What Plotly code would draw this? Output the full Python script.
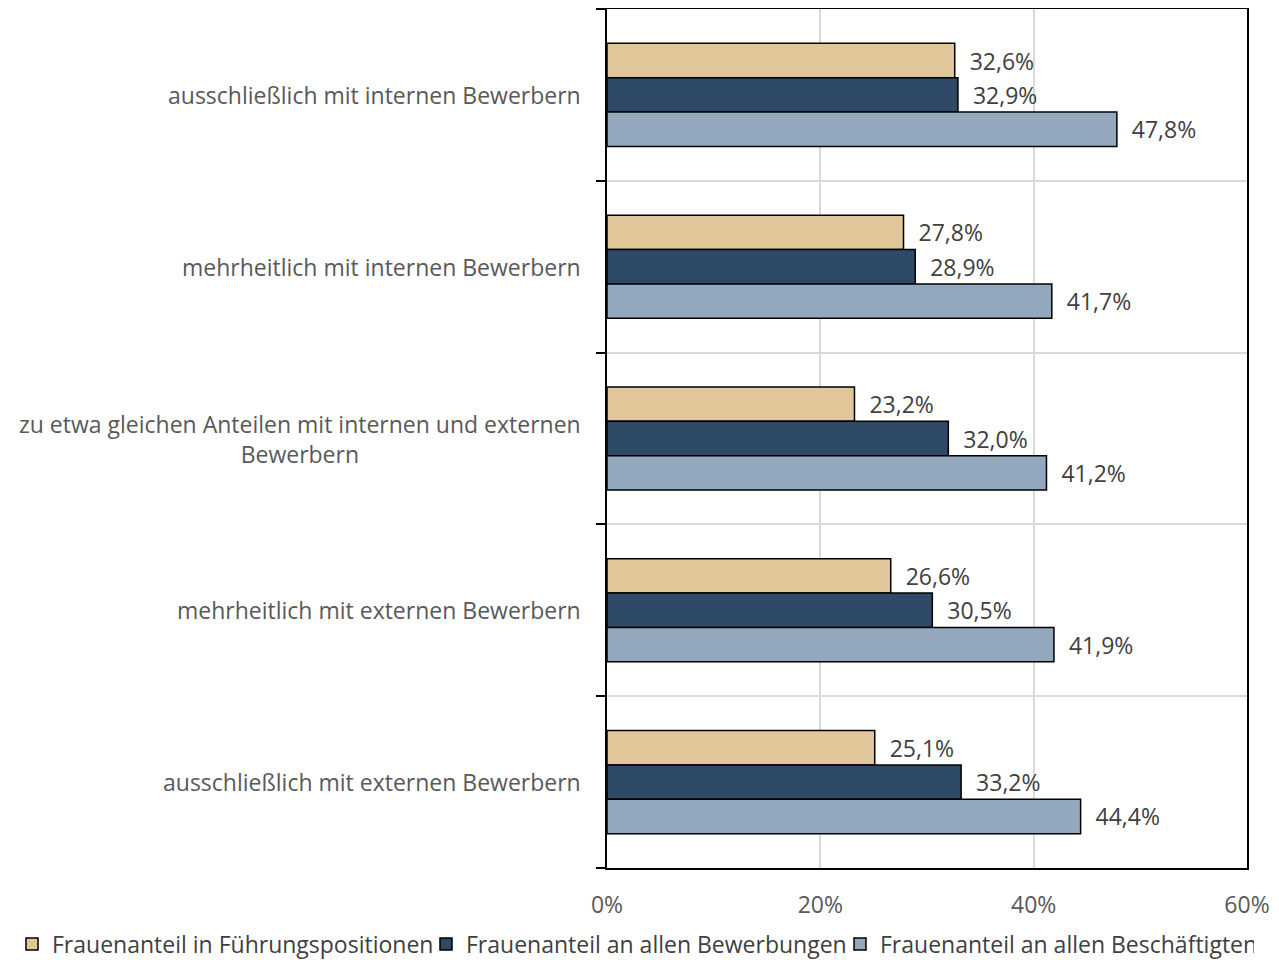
import plotly.graph_objects as go

categories = [
    "ausschließlich mit internen Bewerbern",
    "mehrheitlich mit internen Bewerbern",
    "zu etwa gleichen Anteilen mit internen und externen<br>Bewerbern",
    "mehrheitlich mit externen Bewerbern",
    "ausschließlich mit externen Bewerbern",
]
series_names = [
    "Frauenanteil in Führungspositionen",
    "Frauenanteil an allen Bewerbungen",
    "Frauenanteil an allen Beschäftigten",
]
fuehrung = [32.6, 27.8, 23.2, 26.6, 25.1]
bewerbungen = [32.9, 28.9, 32.0, 30.5, 33.2]
beschaeftigte = [47.8, 41.7, 41.2, 41.9, 44.4]
colors = ["#E0C699", "#2E4A66", "#94A8BD"]

FONT = "Open Sans"
W, H = 1271, 952
L, R, T, B = 599, 32, 1, 92

fig = go.Figure()
for name, vals, col in zip(series_names, [fuehrung, bewerbungen, beschaeftigte], colors):
    fig.add_trace(go.Bar(
        y=list(range(len(categories))), x=vals, name=name, orientation="h",
        marker=dict(color=col, line=dict(color="black", width=1.5)),
        text=["  " + f"{v:.1f}".replace(".", ",") + "%" for v in vals],
        textposition="outside", cliponaxis=False,
        textfont=dict(family=FONT, size=23, color="#404040"),
    ))

for i, c in enumerate(categories):
    fig.add_annotation(x=0, xref="paper", y=i, yref="y", text=c, showarrow=False,
                       xanchor="right", xshift=-24, align="center",
                       font=dict(family=FONT, size=23, color="#595959"))

plot_w = W - L - R
plot_h = H - T - B
fig.update_layout(
    width=W, height=H, barmode="group", bargap=0.4, bargroupgap=0,
    plot_bgcolor="white", paper_bgcolor="white",
    margin=dict(l=L, r=R, t=T, b=B, autoexpand=False),
    font=dict(family=FONT, size=23, color="#595959"),
    legend=dict(orientation="h", xref="paper", yref="paper",
                x=(4 - L) / plot_w, y=-(936 - (H - B)) / plot_h,
                xanchor="left", yanchor="middle",
                font=dict(family=FONT, size=23, color="#404040"),
                traceorder="normal", itemwidth=30, entrywidth=369, entrywidthmode="pixels"),
    xaxis=dict(range=[0, 60], dtick=20, ticksuffix="%", showgrid=True, gridcolor="#D9D9D9",
               gridwidth=1.5, showline=True, linecolor="black", linewidth=2, mirror=True,
               ticks="", ticklabelstandoff=15, zeroline=False, automargin=False,
               tickfont=dict(family=FONT, size=23, color="#595959")),
    yaxis=dict(type="linear", range=[4.5, -0.5], tickvals=[-0.5, 0.5, 1.5, 2.5, 3.5, 4.5],
               showticklabels=False,
               ticks="outside", ticklen=9, tickcolor="black", tickwidth=2, automargin=False,
               showgrid=True, gridcolor="#D9D9D9", gridwidth=1.5,
               showline=True, linecolor="black", linewidth=2, mirror=True, zeroline=False),
)
fig.write_html("out.html")
